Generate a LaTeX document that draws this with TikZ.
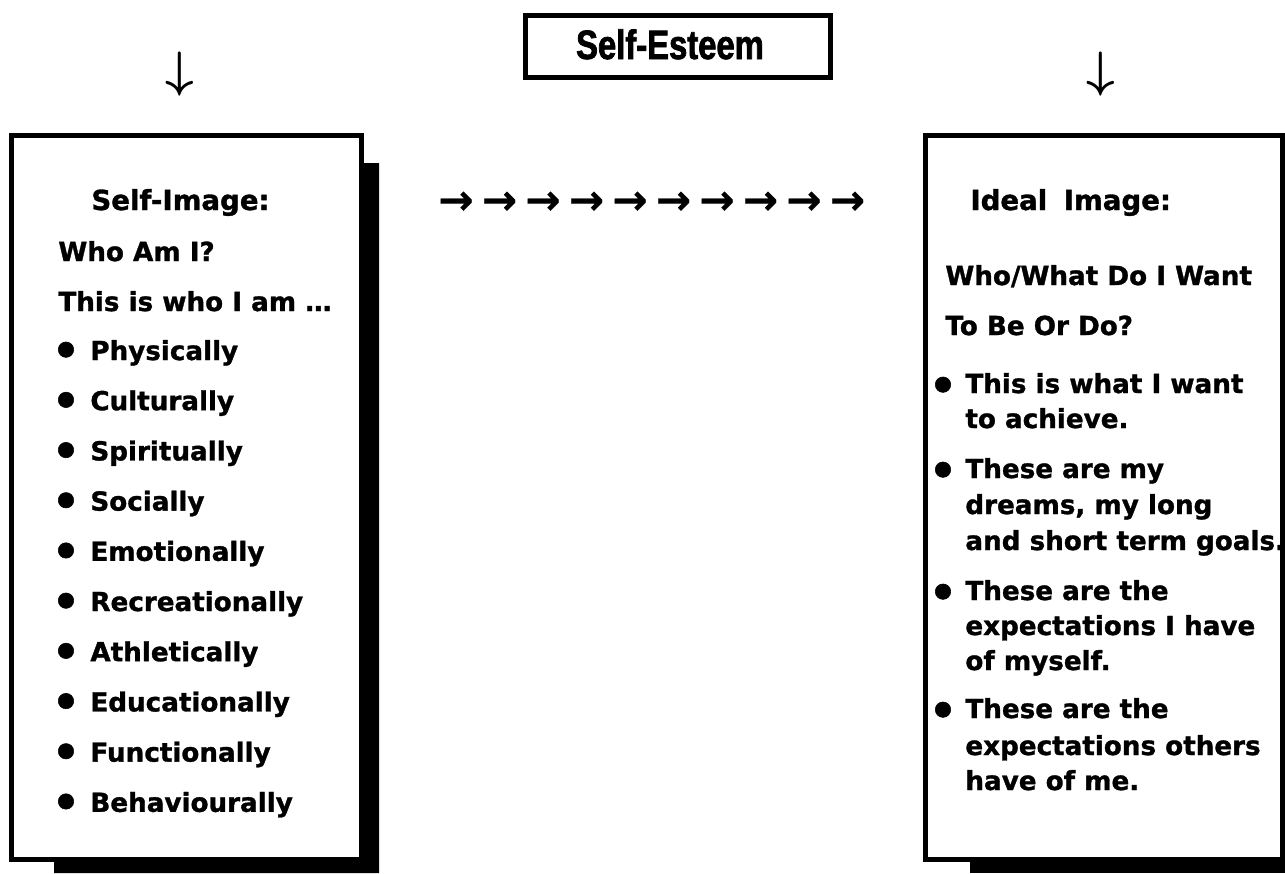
\documentclass[tikz,border=0pt]{standalone}
\usepackage{fontspec}
\setmainfont{DejaVu Sans}[BoldFeatures={FakeBold=1.2}]
\newfontfamily\esteemfont[FakeStretch=0.80,BoldFeatures={FakeBold=1.8}]{Liberation Sans}
\newfontfamily\arrowfont{DejaVu Sans}[BoldFeatures={FakeBold=0.5}]
\begin{document}
\begin{tikzpicture}[x=0.5pt,y=-0.5pt,
  body/.style={font=\bfseries\fontsize{13.1}{15}\selectfont, inner sep=0pt, anchor=base west},
  head/.style={font=\bfseries\fontsize{13.8}{16}\selectfont, inner sep=0pt, anchor=base west},
  bul/.style={font=\bfseries\fontsize{22}{24}\selectfont, inner sep=0pt, anchor=base},
  frame/.style={line width=2.5pt, draw=black, fill=white},
  shadowfill/.style={fill=black, draw=none},
  harrow/.style={font=\arrowfont\bfseries\fontsize{21}{24}\selectfont, inner sep=0pt, anchor=center},
  varrow/.style={font=\fontsize{24.88}{28}\selectfont\boldmath, inner sep=0pt, anchor=center}]
\useasboundingbox (0,0) rectangle (1285,873);
\fill[white] (0,0) rectangle (1285,873);

% Self-Esteem box
\draw[line width=2.5pt] (525.5,15.5) rectangle (830.5,77.5);
\node[inner sep=0pt, anchor=base, font=\esteemfont\bfseries\fontsize{20.5}{22}\selectfont] (esteem) at (670,59) {Self-Esteem};

% down arrows
\node[varrow] (dl) at (180,74.5) {$\downarrow$};
\node[varrow] (dr) at (1101,74.5) {$\downarrow$};

% horizontal arrows
\foreach \k in {0,...,9} {
  \node[harrow] (ha\k) at ({456+43.5*\k},203) {→};
}

% left box with shadow
\fill[shadowfill] (364,163) -- (379,163) -- (379,873) -- (54,873) -- (54,862) -- (364,862) -- cycle;
\draw[frame] (11.5,135.5) rectangle (361.5,859.5);

% right box with shadow
\fill[shadowfill] (970,862) rectangle (1285,873);
\draw[frame] (925.5,135.5) rectangle (1282.5,859.5);

% left box text
\node[head] (selfimg) at (91,210) {Self-Image:};
\node[body] (whoami) at (58,261) {Who Am I?};
\node[body] (thisis) at (58,311) {This is who I am \dots};
\foreach \t [count=\i from 0] in {Physically,Culturally,Spiritually,Socially,Emotionally,Recreationally,Athletically,Educationally,Functionally,Behaviourally} {
  \node[bul] (lb\i) at (66,{360+50.2*\i+6}) {•};
  \node[body] (lt\i) at (90,{360+50.2*\i}) {\t};
}

% right box text
\node[head] (ideal) at (970,210) {Ideal\hspace{0.6em}Image:};
\node[body] (whowhat) at (945,285) {Who/What Do I Want};
\node[body] (tobe) at (945,335) {To Be Or Do?};

\node[bul] (rb1) at (943,401) {•};
\node[body] (r1a) at (965,393) {This is what I want};
\node[body] (r1b) at (965,428) {to achieve.};

\node[bul] (rb2) at (943,486) {•};
\node[body] (r2a) at (965,478) {These are my};
\node[body] (r2b) at (965,514) {dreams, my long};
\node[body] (r2c) at (965,550) {and short term goals.};

\node[bul] (rb3) at (943,608) {•};
\node[body] (r3a) at (965,600) {These are the};
\node[body] (r3b) at (965,635) {expectations I have};
\node[body] (r3c) at (965,670) {of myself.};

\node[bul] (rb4) at (943,726) {•};
\node[body] (r4a) at (965,718) {These are the};
\node[body] (r4b) at (965,755) {expectations others};
\node[body] (r4c) at (965,790) {have of me.};
\end{tikzpicture}
\end{document}
